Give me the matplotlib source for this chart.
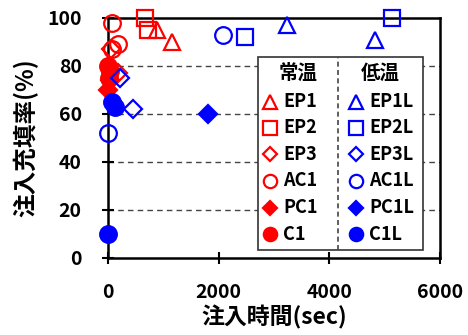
import matplotlib
matplotlib.use("Agg")
import matplotlib.pyplot as plt
from matplotlib.lines import Line2D

plt.rcParams['font.family'] = ['Noto Sans CJK JP', 'DejaVu Sans']
plt.rcParams['font.weight'] = 'bold'

# injection time (sec) and filling ratio (%) for each specimen
ep1_x, ep1_y = [890, 1160], [95, 90]
ep2_x, ep2_y = [670, 720], [100, 95]
ep3_x, ep3_y = [60, 180], [87, 77]
ac1_x, ac1_y = [70, 180, 70], [98, 89, 87]
pc1_x, pc1_y = [0, 30], [70, 74]
c1_x, c1_y = [0, 30, 10], [80, 78, 75]

ep1l_x, ep1l_y = [3230, 4820], [97, 91]
ep2l_x, ep2l_y = [5130, 2470], [100, 92]
ep3l_x, ep3l_y = [450, 220], [62, 75]
ac1l_x, ac1l_y = [2080, 0], [93, 52]
pc1l_x, pc1l_y = [1800], [60]
c1l_x, c1l_y = [0, 130, 70], [10, 63, 65]

x_ticks = [0, 2000, 4000, 6000]
y_ticks = [0, 20, 40, 60, 80, 100]

RED, BLUE = '#FF0000', '#0000FF'

series = [
    ('EP1', ep1_x, ep1_y, RED, '^', False),
    ('EP2', ep2_x, ep2_y, RED, 's', False),
    ('EP3', ep3_x, ep3_y, RED, 'D', False),
    ('AC1', ac1_x, ac1_y, RED, 'o', False),
    ('PC1', pc1_x, pc1_y, RED, 'D', True),
    ('C1', c1_x, c1_y, RED, 'o', True),
    ('EP1L', ep1l_x, ep1l_y, BLUE, '^', False),
    ('EP2L', ep2l_x, ep2l_y, BLUE, 's', False),
    ('EP3L', ep3l_x, ep3l_y, BLUE, 'D', False),
    ('AC1L', ac1l_x, ac1l_y, BLUE, 'o', False),
    ('PC1L', pc1l_x, pc1l_y, BLUE, 'D', True),
    ('C1L', c1l_x, c1l_y, BLUE, 'o', True),
]

SIZES = {'^': 12, 's': 12, 'D': 9, 'o': 12}

fig = plt.figure(figsize=(4.68, 3.35), dpi=100)
ax = fig.add_axes([0.2308, 0.2299, 0.7094, 0.7164])

ax.set_xlim(0, 6000)
ax.set_ylim(0, 100)
ax.set_xticks(x_ticks)
ax.set_yticks(y_ticks)
ax.set_xticklabels([str(v) for v in x_ticks], fontsize=14, fontweight='bold')
ax.set_yticklabels([str(v) for v in y_ticks], fontsize=14, fontweight='bold')
ax.tick_params(direction='inout', length=8, width=1.5)
ax.tick_params(axis='x', pad=14)
ax.tick_params(axis='y', pad=15)

for s in ax.spines.values():
    s.set_linewidth(1.8)

for v in [20, 40, 60, 80]:
    ax.axhline(v, color='#444444', lw=1.0, ls=(0, (4, 3)), zorder=0)

for name, xs, ys, col, mk, filled in series:
    ax.plot(xs, ys, ls='none', marker=mk, ms=SIZES[mk],
            mfc=col if filled else 'none', mec=col, mew=1.6,
            clip_on=False, zorder=3)

ax.set_xlabel('注入時間(sec)', fontsize=16.5, fontweight='bold', labelpad=2)
ax.set_ylabel('注入充填率(%)', fontsize=17, fontweight='bold', labelpad=6)

# two-column key: room temperature / low temperature
L, R, T, B = 0.452, 0.949, 0.8375, 0.033
SEP = 0.693
box = plt.Rectangle((L, B), R - L, T - B, transform=ax.transAxes,
                    fill=True, facecolor='white', edgecolor='#333333', lw=1.2, zorder=5)
ax.add_patch(box)
ax.add_line(Line2D([SEP, SEP], [B, T], transform=ax.transAxes, color='#444444',
                   lw=1.2, ls=(0, (3, 2)), zorder=6))
head_y = 0.771
ax.text((L + SEP) / 2, head_y, '常温', transform=ax.transAxes, ha='center', va='center',
        fontsize=14, fontweight='bold', zorder=7)
ax.text((SEP + R) / 2, head_y, '低温', transform=ax.transAxes, ha='center', va='center',
        fontsize=14, fontweight='bold', zorder=7)
row_y = [0.652, 0.542, 0.433, 0.322, 0.210, 0.098]
col_mx = [0.488, 0.747]
col_tx = [0.527, 0.786]
for i, (name, xs, ys, col, mk, filled) in enumerate(series):
    c, r = divmod(i, 6)
    ax.plot([col_mx[c]], [row_y[r]], transform=ax.transAxes, ls='none', marker=mk,
            ms=SIZES[mk] * 0.8, mfc=col if filled else 'none', mec=col, mew=1.6,
            clip_on=False, zorder=7)
    ax.text(col_tx[c], row_y[r], name, transform=ax.transAxes, ha='left', va='center',
            fontsize=13, fontweight='bold', zorder=7)

fig.savefig('out.png', dpi=100)
